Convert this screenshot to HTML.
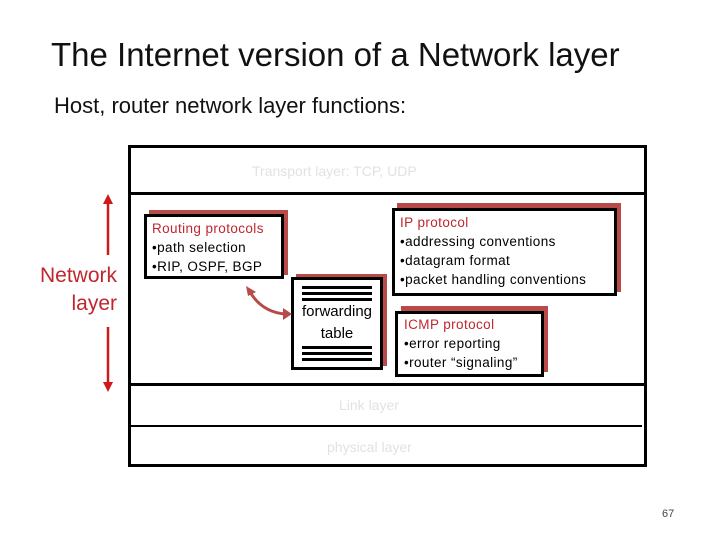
<!DOCTYPE html>
<html><head><style>
body{margin:0;width:720px;height:540px;background:#fff;position:relative;overflow:hidden;font-family:"Liberation Sans",sans-serif}
.a{position:absolute}
.box{position:absolute;border:3px solid #000;background:#fff;box-sizing:border-box}
.sh{position:absolute;background:#b84a4a}
.t{font-size:13.5px;line-height:19px;color:#000;white-space:nowrap;letter-spacing:0.4px}
.r{color:#c0262e}
.hl{position:absolute;height:2px;background:#000}
</style></head><body>
<div class="a" style="left:51px;top:36px;font-size:33px;color:#111">The Internet version of a Network layer</div>
<div class="a" style="left:54px;top:93px;font-size:22px;color:#111">Host, router network layer functions:</div>

<div class="a" style="left:128px;top:145px;width:513px;height:316px;border:3px solid #000"></div>
<div class="hl" style="left:130px;top:192px;width:514px;height:3px"></div>
<div class="hl" style="left:130px;top:383px;width:514px;height:3px"></div>
<div class="hl" style="left:130px;top:425px;width:512px;height:2px"></div>
<div class="a" style="left:252px;top:163px;font-size:14px;color:#e2e2e2">Transport layer: TCP, UDP</div>
<div class="a" style="left:339px;top:397px;font-size:14px;color:#e2e2e2">Link layer</div>
<div class="a" style="left:327px;top:439px;font-size:14px;color:#e2e2e2">physical layer</div>

<div class="sh" style="left:149px;top:210px;width:139px;height:65px"></div>
<div class="box" style="left:144px;top:214px;width:140px;height:65px"></div>
<div class="a t" style="left:152px;top:219px"><span class="r">Routing protocols</span><br>•path selection<br>•RIP, OSPF, BGP</div>

<div class="sh" style="left:296px;top:274px;width:91px;height:92px"></div>
<div class="box" style="left:291px;top:277px;width:92px;height:93px"></div>
<div class="hl" style="left:302px;top:286px;width:70px;height:3px"></div>
<div class="hl" style="left:302px;top:292px;width:70px;height:3px"></div>
<div class="hl" style="left:302px;top:298px;width:70px;height:3px"></div>
<div class="a" style="left:291px;top:301px;width:92px;text-align:center;font-size:15px;line-height:22px">forwarding<br>table</div>
<div class="hl" style="left:302px;top:346px;width:70px;height:3px"></div>
<div class="hl" style="left:302px;top:352px;width:70px;height:3px"></div>
<div class="hl" style="left:302px;top:358px;width:70px;height:3px"></div>

<div class="sh" style="left:397px;top:203px;width:224px;height:89px"></div>
<div class="box" style="left:392px;top:208px;width:225px;height:88px"></div>
<div class="a t" style="left:400px;top:213px"><span class="r">IP protocol</span><br>•addressing conventions<br>•datagram format<br>•packet handling conventions</div>

<div class="sh" style="left:401px;top:306px;width:147px;height:66px"></div>
<div class="box" style="left:395px;top:311px;width:149px;height:66px"></div>
<div class="a t" style="left:404px;top:315px"><span class="r">ICMP protocol</span><br>•error reporting<br>•router “signaling”</div>

<svg class="a" style="left:0;top:0" width="720" height="540">
<path d="M250 292 Q262 312 285 314" stroke="#b84a4a" stroke-width="3" fill="none"/>
<polygon points="246,286 256,292 248,296" fill="#b84a4a"/>
<polygon points="292,314 283,308 283,320" fill="#b84a4a"/>
<line x1="108" y1="200" x2="108" y2="255" stroke="#d01818" stroke-width="2.5"/>
<line x1="108" y1="327" x2="108" y2="385" stroke="#d01818" stroke-width="2.5"/>
<polygon points="108,194 103,204 113,204" fill="#d01818"/>
<polygon points="108,392 103,382 113,382" fill="#d01818"/>
</svg>
<div class="a" style="left:10px;top:262px;width:107px;text-align:right;font-size:21px;line-height:28px;color:#c0262e">Network<br>layer</div>
<div class="a" style="left:662px;top:508px;font-size:11px;color:#444">67</div>
</body></html>
